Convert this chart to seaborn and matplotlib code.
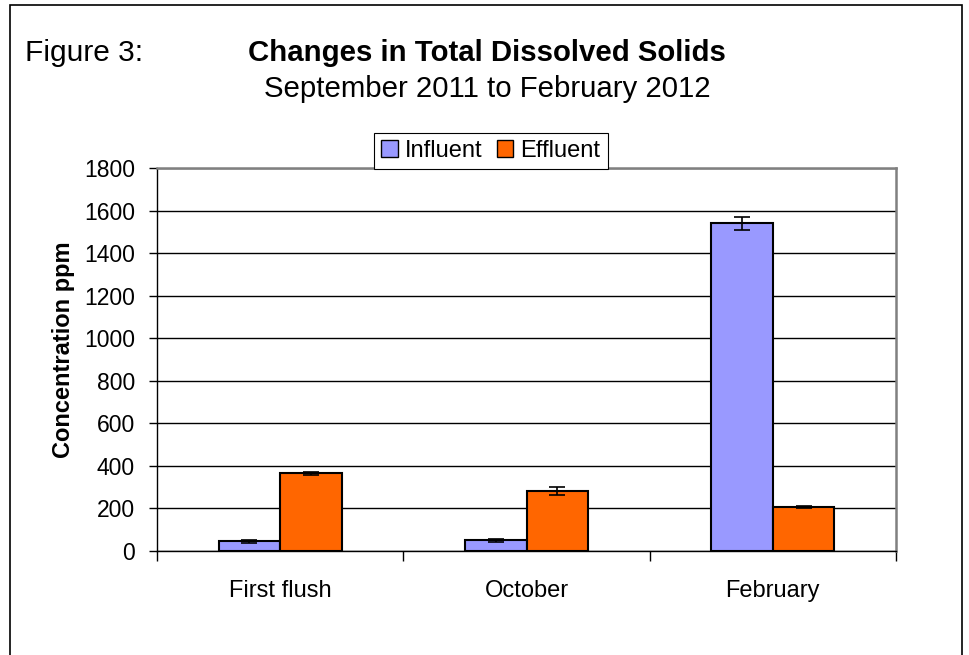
import matplotlib
matplotlib.use("Agg")
import matplotlib.pyplot as plt
import seaborn as sns
import pandas as pd
import numpy as np
from matplotlib.patches import Rectangle, Patch

categories = ["First flush", "October", "February"]
series = ["Influent", "Effluent"]
influent = [45, 50, 1540]
effluent = [365, 282, 205]
influent_err = [8, 6, 30]
effluent_err = [8, 20, 5]
yticks = [0, 200, 400, 600, 800, 1000, 1200, 1400, 1600, 1800]

colors = {"Influent": "#9999FF", "Effluent": "#FF6600"}

df = pd.DataFrame({
    "cat": categories * 2,
    "series": ["Influent"] * 3 + ["Effluent"] * 3,
    "value": influent + effluent,
})

sns.set_style("white")
plt.rcParams['font.family'] = ['Liberation Sans', 'DejaVu Sans']
plt.rcParams['text.color'] = 'black'
plt.rcParams['axes.labelcolor'] = 'black'
plt.rcParams['xtick.color'] = 'black'
plt.rcParams['ytick.color'] = 'black'

fig = plt.figure(figsize=(9.69, 6.55), dpi=100)
ax = fig.add_axes([157/969, 1-551/655, (896-157)/969, (551-168)/655])

sns.barplot(data=df, x="cat", y="value", hue="series", order=categories,
            hue_order=series, palette=colors, width=0.5, errorbar=None,
            saturation=1, edgecolor="black", linewidth=1.5, ax=ax,
            legend=False, zorder=3)

errs = {"Influent": influent_err, "Effluent": effluent_err}
vals = {"Influent": influent, "Effluent": effluent}
for container, s in zip(ax.containers, series):
    xs = [p.get_x() + p.get_width()/2 for p in container.patches]
    ax.errorbar(xs, vals[s], yerr=errs[s], fmt="none", ecolor="black",
                elinewidth=1.2, capsize=6, capthick=1.2, zorder=4)

ax.set_ylim(0, 1800)
ax.set_xlim(-0.5, 2.5)
ax.set_yticks(yticks)
ax.set_yticklabels([str(t) for t in yticks], fontsize=16.5)
ax.yaxis.grid(True, color="black", linewidth=1.0, zorder=0)
ax.set_axisbelow(True)
ax.tick_params(axis="y", direction="out", length=6, width=1, left=True, pad=10)
ax.set_xticks([0, 1, 2])
ax.set_xticklabels(categories, fontsize=17)
ax.set_xticks([-0.5, 0.5, 1.5, 2.5], minor=True)
ax.tick_params(axis="x", which="major", length=0, pad=21)
ax.tick_params(axis="x", which="minor", direction="out", length=7, width=1, bottom=True)
ax.set_xlabel("")
ax.set_ylabel("Concentration ppm", fontsize=17, fontweight="bold")
ax.yaxis.set_label_coords((75-157)/739, (551-350)/383)

for side in ["left", "bottom"]:
    ax.spines[side].set_color("black")
    ax.spines[side].set_linewidth(1.0)
for side in ["top", "right"]:
    ax.spines[side].set_visible(True)
    ax.spines[side].set_color("#808080")
    ax.spines[side].set_linewidth(1.8)

handles = [Patch(facecolor=colors[s], edgecolor="black", linewidth=1.0, label=s) for s in series]
leg = fig.legend(handles=handles, loc="center", bbox_to_anchor=(491/969, 1-151/655),
                 ncol=2, fontsize=17, frameon=True, fancybox=False,
                 edgecolor="black", handlelength=0.7, handleheight=0.7,
                 handletextpad=0.3, columnspacing=0.6, borderpad=0.3,
                 framealpha=1)
leg.get_frame().set_linewidth(0.8)

fig.text(25/969, 1-61/655, "Figure 3:", fontsize=21.5, ha="left", va="baseline")
fig.text(487/969, 1-61/655, "Changes in Total Dissolved Solids", fontsize=21.2,
         fontweight="bold", ha="center", va="baseline")
fig.text(487/969, 1-97/655, "September 2011 to February 2012", fontsize=21.2,
         ha="center", va="baseline")

fig.patches.append(Rectangle((10/969, -0.05), (962-10)/969, 1.05 - 5/655,
                             transform=fig.transFigure, fill=False,
                             edgecolor="black", linewidth=1.2))

fig.savefig("out.png", dpi=100)
